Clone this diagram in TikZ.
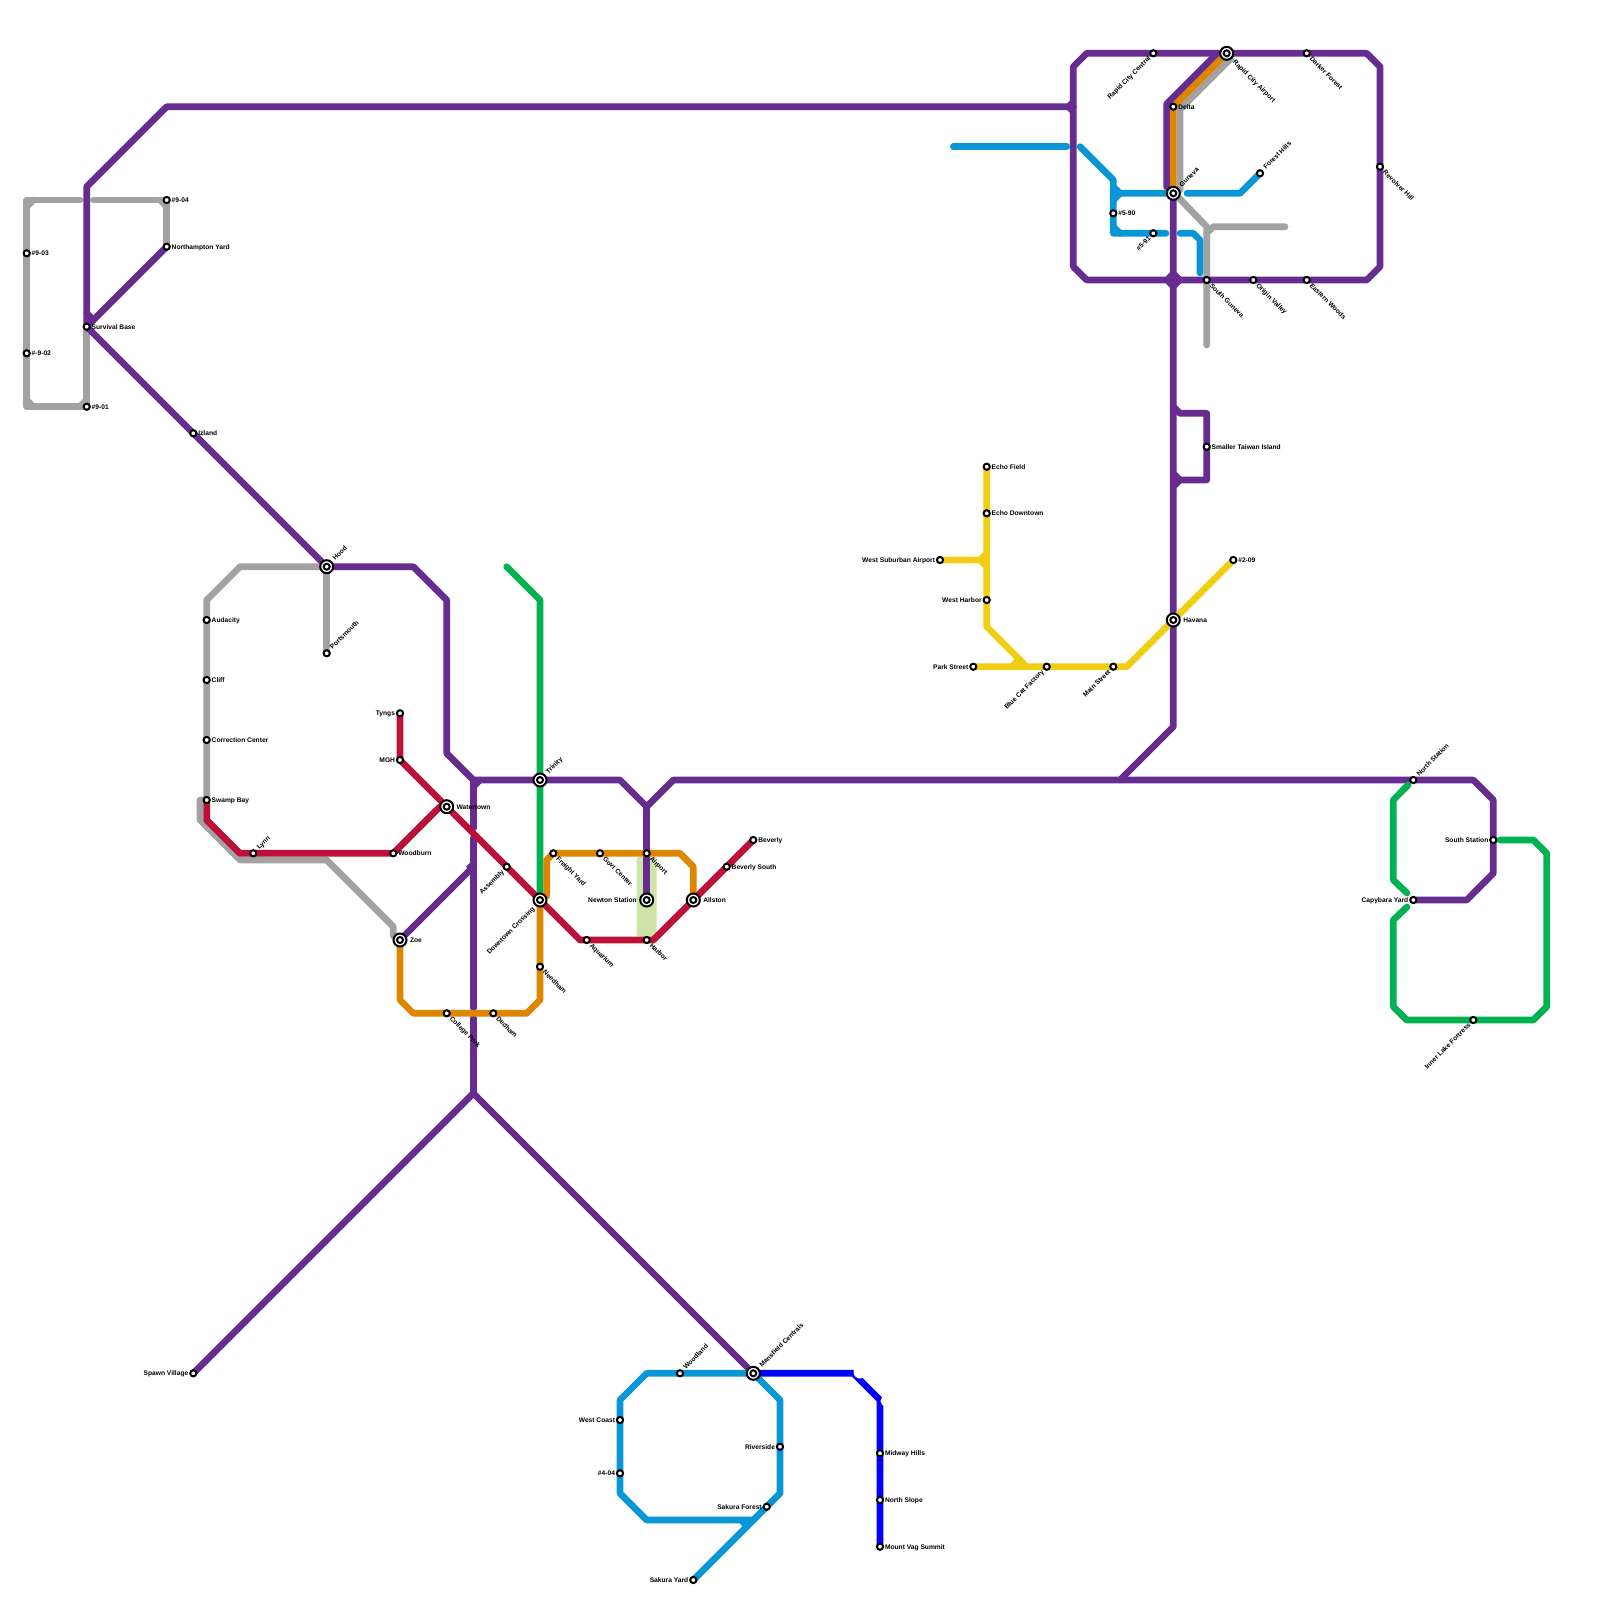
\documentclass[tikz,border=0pt]{standalone}
\usepackage{fontspec}
\setmainfont{Liberation Sans}
\pgfdeclarelayer{lines}
\pgfsetlayers{lines,main}
\definecolor{cpurple}{HTML}{662C90}
\definecolor{cgray}{HTML}{A2A2A2}
\definecolor{cred}{HTML}{BD1038}
\definecolor{corange}{HTML}{DF8600}
\definecolor{cblue}{HTML}{0896D7}
\definecolor{cgreen}{HTML}{00B251}
\definecolor{cyellow}{HTML}{F0CE15}
\definecolor{cdeep}{HTML}{0000FF}
\definecolor{chigh}{HTML}{CFE4A7}
\tikzset{
  stn/.style={circle,draw=black,fill=white,line width=1pt,minimum size=3.1pt,inner sep=0pt,outer sep=0pt},
  hub/.style={circle,draw=black,fill=white,line width=1pt,minimum size=6.5pt,inner sep=0pt,outer sep=0pt,
    path picture={\draw[black,line width=1pt] (path picture bounding box.center) circle (1.5pt);}},
  lab/.style={inner sep=0pt,outer sep=0pt,text=black,text height=2.45pt,text depth=0pt,font=\fontsize{3.33pt}{4pt}\selectfont\bfseries},
  lR/.style={lab,anchor=west,shift={(5,0)}},
  lL/.style={lab,anchor=east,shift={(-5,0)}},
  lNE/.style={lab,anchor=west,shift={(4.3,-5.3)},rotate=45},
  lSE/.style={lab,anchor=west,shift={(4.3,4.3)},rotate=-45},
  lSW/.style={lab,anchor=east,shift={(-4,4)},rotate=45},
  hR/.style={lab,anchor=west,shift={(10,0)}},
  hL/.style={lab,anchor=east,shift={(-10,0)}},
  hNE/.style={lab,anchor=west,shift={(7,-7.5)},rotate=45},
  hSE/.style={lab,anchor=west,shift={(7.6,7.6)},rotate=-45},
  hSW/.style={lab,anchor=east,shift={(-6.7,7.7)},rotate=45},
  route/.style={line width=3.33pt,line cap=round,line join=round},
  pur/.style={route,draw=cpurple},
  gry/.style={route,draw=cgray},
  rd/.style={route,draw=cred},
  org/.style={route,draw=corange},
  blu/.style={route,draw=cblue},
  grn/.style={route,draw=cgreen},
  yel/.style={route,draw=cyellow},
  dep/.style={route,draw=cdeep},
}
\newcommand{\st}[6][stn]{\node[#1] (#2) at (#3,#4) {}; \node[#5] (#2-l) at (#3,#4) {#6};}
\begin{document}
\begin{tikzpicture}[x=0.5pt,y=-0.5pt]
\useasboundingbox (0,0) rectangle (1600,1600);
% stations
\st{a903}{26.7}{253.3}{lR}{\#9-03}
\st{a902}{26.7}{353.3}{lR}{\#-9-02}
\st{a901}{86.7}{406.7}{lR}{\#9-01}
\st{surv}{86.7}{326.7}{lR}{Survival Base}
\st{a904}{166.7}{200}{lR}{\#9-04}
\st{north}{166.7}{246.7}{lR}{Northampton Yard}
\st{izl}{193.3}{433.3}{lR}{Izland}
\st[hub]{hood}{326.7}{566.7}{hNE}{Hood}
\st{ports}{326.7}{653.3}{lNE}{Portsmouth}
\st{auda}{206.7}{620}{lR}{Audacity}
\st{cliff}{206.7}{680}{lR}{Cliff}
\st{corr}{206.7}{740}{lR}{Correction Center}
\st{swamp}{206.7}{800}{lR}{Swamp Bay}
\st{lynn}{253.3}{853.3}{lNE}{Lynn}
\st{woodb}{393.3}{853.3}{lR}{Woodburn}
\st{tyngs}{400}{713.3}{lL}{Tyngs}
\st{mgh}{400}{760}{lL}{MGH}
\st[hub]{water}{446.7}{806.7}{hR}{Watertown}
\st[hub]{zoe}{400}{940}{hR}{Zoe}
\st{assem}{506.7}{866.7}{lSW}{Assembly}
\st[hub]{trin}{540}{780}{hNE}{Trinity}
\st[hub]{down}{540}{900}{hSW}{Downtown Crossing}
\st{need}{540}{966.7}{lSE}{Needham}
\st{coll}{446.7}{1013.3}{lSE}{College Park}
\st{dedh}{493.3}{1013.3}{lSE}{Dedham}
\st{frei}{553.3}{853.3}{lSE}{Freight Yard}
\st{govt}{600}{853.3}{lSE}{Govt Center}
\st{airp}{646.7}{853.3}{lSE}{Airport}
\st[hub]{newt}{646.7}{900}{hL}{Newton Station}
\st[hub]{alls}{693.3}{900}{hR}{Allston}
\st{harb}{646.7}{940}{lSE}{Harbor}
\st{aqua}{586.7}{940}{lSE}{Aquarium}
\st{bevs}{726.7}{866.7}{lR}{Beverly South}
\st{bev}{753.3}{840}{lR}{Beverly}
\st{spawn}{193.3}{1373.3}{lL}{Spawn Village}
\st[hub]{mans}{753.3}{1373.3}{hNE}{Mansfield Centrals}
\st{wood}{680}{1373.3}{lNE}{Woodland}
\st{wcoast}{620}{1420}{lL}{West Coast}
\st{a404}{620}{1473.3}{lL}{\#4-04}
\st{river}{780}{1446.7}{lL}{Riverside}
\st{sakf}{766.7}{1506.7}{lL}{Sakura Forest}
\st{saky}{693.3}{1580}{lL}{Sakura Yard}
\st{midw}{880}{1453.3}{lR}{Midway Hills}
\st{nslope}{880}{1500}{lR}{North Slope}
\st{mvag}{880}{1546.7}{lR}{Mount Vag Summit}
\st{echof}{986.7}{466.7}{lR}{Echo Field}
\st{echod}{986.7}{513.3}{lR}{Echo Downtown}
\st{wsub}{940}{560}{lL}{West Suburban Airport}
\st{wharb}{986.7}{600}{lL}{West Harbor}
\st{park}{973.3}{666.7}{lL}{Park Street}
\st{bcat}{1046.7}{666.7}{lSW}{Blue Cat Factory}
\st{mains}{1113.3}{666.7}{lSW}{Main Street}
\st[hub]{hav}{1173.3}{620}{hR}{Havana}
\st{a209}{1233.3}{560}{lR}{\#2-09}
\st{rcc}{1153.3}{53.3}{lSW}{Rapid City Central}
\st[hub]{rca}{1226.7}{53.3}{hSE}{Rapid City Airport}
\st{dark}{1306.7}{53.3}{lSE}{Darker Forest}
\st{delta}{1173.3}{106.7}{lR}{Delta}
\st[hub]{gun}{1173.3}{193.3}{hNE}{Guneva}
\st{forest}{1260}{173.3}{lNE}{Forest Hills}
\st{a590}{1113.3}{213.3}{lR}{\#5-90}
\st{a591}{1153.3}{233.3}{lSW}{\#5-91}
\st{sgun}{1206.7}{280}{lSE}{South Guneva}
\st{orig}{1253.3}{280}{lSE}{Origin Valley}
\st{east}{1306.7}{280}{lSE}{Eastern Woods}
\st{revo}{1380}{166.7}{lSE}{Revolver Hill}
\st{small}{1206.7}{446.7}{lR}{Smaller Taiwan Island}
\st{nsta}{1413.3}{780}{lNE}{North Station}
\st{ssta}{1493.3}{840}{lL}{South Station}
\st{capy}{1413.3}{900}{lL}{Capybara Yard}
\st{inner}{1473.3}{1020}{lSW}{Inner Lake Fortress}
\begin{pgfonlayer}{lines}
% transfer highlight
\fill[chigh,rounded corners=1.5pt] (636.7,856.7) rectangle (656.7,936.7);
% gray
\draw[gry] (80,200) -- (26.7,200) -- (a903.center) -- (a902.center) -- (26.7,406.7) -- (a901.center) -- (surv.center);
\draw[gry] (26.7,206.7) -- (33.3,200);
\draw[gry] (26.7,400) -- (33.3,406.7);
\draw[gry] (80,406.7) -- (86.7,400);
\draw[gry] (93.3,200) -- (a904.center) -- (north.center);
\draw[gry] (160,200) -- (166.7,206.7);
\draw[gry] (hood.center) -- (240,566.7) -- (206.7,600) -- (auda.center) -- (cliff.center) -- (corr.center) -- (swamp.center) -- (200,800) -- (200,820) -- (240,860) -- (326.7,860) -- (393.3,926.7) -- (393.3,936);
\draw[gry] (hood.center) -- (ports.center);
\draw[gry] (1180,190) -- (1180,109.4) -- (1231,58.4);
\draw[gry] (1178,197) -- (1206.7,226.7) -- (sgun.center) -- (1206.7,345);
\draw[gry] (1206.7,233.3) -- (1213.3,226.7) -- (1285,226.7);
% purple
\draw[pur] (surv.center) -- (86.7,186.7) -- (166.7,106.7) -- (1073.3,106.7);
\fill[cpurple] (1073.3,97) -- (1064,106.7) -- (1073.3,116.4) -- cycle;
\draw[pur] (surv.center) -- (north.center);
\draw[pur] (86.7,313.3) -- (93.3,320);
\draw[pur] (surv.center) -- (izl.center) -- (hood.center) -- (413.3,566.7) -- (446.7,600) -- (446.7,753.3) -- (473.3,780) -- (trin.center) -- (620,780) -- (646.7,806.7) -- (673.3,780) -- (1120,780) -- (nsta.center) -- (1473.3,780) -- (1493.3,800) -- (ssta.center) -- (1493.3,873.3) -- (1466.7,900) -- (capy.center);
\draw[pur] (646.7,806.7) -- (airp.center) -- (newt.center);
\draw[pur] (473.3,780) -- (473.3,828);
\draw[pur] (473.3,786.7) -- (480,780);
\draw[pur] (473.3,838) -- (473.3,1008);
\draw[pur] (473.3,1018) -- (473.3,1093.3);
\draw[pur] (zoe.center) -- (473.3,866.7);
\fill[cpurple] (473.3,859.5) -- (466,866.7) -- (473.3,874) -- cycle;
\draw[pur] (spawn.center) -- (473.3,1093.3) -- (mans.center);
\draw[pur] (rcc.center) -- (rca.center) -- (dark.center) -- (1366.7,53.3) -- (1380,66.7) -- (revo.center) -- (1380,266.7) -- (1366.7,280) -- (east.center) -- (orig.center) -- (sgun.center) -- (1086.7,280) -- (1073.3,266.7) -- (1073.3,66.7) -- (1086.7,53.3) -- cycle;
\draw[pur] (1166.7,187) -- (1166.7,103.9) -- (1217.3,53.3);
\draw[pur] (gun.center) -- (hav.center) -- (1173.3,726.7) -- (1120,780);
\fill[cpurple] (1173.3,269) -- (1162.3,280) -- (1173.3,291) -- (1184.3,280) -- cycle;
\draw[pur] (1173.3,406.7) -- (1180,413.3) -- (1206.7,413.3) -- (small.center) -- (1206.7,480) -- (1180,480) -- (1173.3,486.7);
\draw[pur] (1173.3,473.3) -- (1180,480);
% yellow
\draw[yel] (echof.center) -- (echod.center) -- (wharb.center) -- (986.7,626.7) -- (1026.7,666.7);
\draw[yel] (wsub.center) -- (980,560) -- (986.7,553.3);
\draw[yel] (980,560) -- (986.7,566.7);
\draw[yel] (park.center) -- (bcat.center) -- (mains.center) -- (1126.7,666.7) -- (hav.center) -- (a209.center);
\draw[yel] (1012,666.7) -- (1018,660);
% green
\draw[grn] (506.7,566.7) -- (540,600) -- (trin.center) -- (down.center);
\draw[grn] (1408,785) -- (1393.3,800) -- (1393.3,880) -- (1407,893);
\draw[grn] (1407,907) -- (1393.3,920) -- (1393.3,1006.7) -- (1406.7,1020) -- (inner.center) -- (1533.3,1020) -- (1546.7,1006.7) -- (1546.7,853.3) -- (1533.3,840) -- (1500,840);
% blue
\draw[blu] (953.3,146.7) -- (1066.7,146.7);
\draw[blu] (1080,146.7) -- (1113.3,180) -- (a590.center) -- (1113.3,233.3) -- (a591.center) -- (1166,233.3);
\draw[blu] (1113.3,186.7) -- (1120,193.3) -- (1166,193.3);
\draw[blu] (1113.3,200) -- (1120,193.3);
\draw[blu] (1113.3,226.7) -- (1120,233.3);
\draw[blu] (1180,233.3) -- (1193.3,233.3) -- (1200,240) -- (1200,273);
\draw[blu] (1187,193.3) -- (1240,193.3) -- (forest.center);
\draw[blu] (mans.center) -- (wood.center) -- (646.7,1373.3) -- (620,1400) -- (wcoast.center) -- (a404.center) -- (620,1493.3) -- (646.7,1520) -- (753.3,1520);
\draw[blu] (741,1520) -- (747,1526);
\draw[blu] (mans.center) -- (780,1400) -- (river.center) -- (780,1493.3) -- (sakf.center) -- (saky.center);
% orange
\draw[org] (zoe.center) -- (400,1000) -- (413.3,1013.3) -- (coll.center) -- (dedh.center) -- (526.7,1013.3) -- (540,1000) -- (need.center) -- (down.center);
\draw[org] (546.7,896) -- (546.7,860) -- (frei.center) -- (govt.center) -- (airp.center) -- (680,853.3) -- (693.3,866.7) -- (alls.center);
\draw[org] (gun.center) -- (delta.center) -- (rca.center);
% red
\draw[rd] (tyngs.center) -- (mgh.center) -- (water.center) -- (assem.center) -- (down.center) -- (580,940) -- (aqua.center) -- (harb.center) -- (653.3,940) -- (alls.center) -- (bevs.center) -- (bev.center);
\draw[rd] (swamp.center) -- (206.7,820) -- (240,853.3) -- (lynn.center) -- (woodb.center) -- (440,806.7) -- (water.center);
% deep blue
\draw[dep] (mans.center) -- (853.3,1373.3) -- (880,1400) -- (midw.center) -- (nslope.center) -- (mvag.center);
\fill[white] (860,1372) circle (3.25pt);
\fill[white] (886,1401) circle (2.75pt);
\draw[dep] (880,1408) -- (880,1420);
\end{pgfonlayer}
\end{tikzpicture}
\end{document}
